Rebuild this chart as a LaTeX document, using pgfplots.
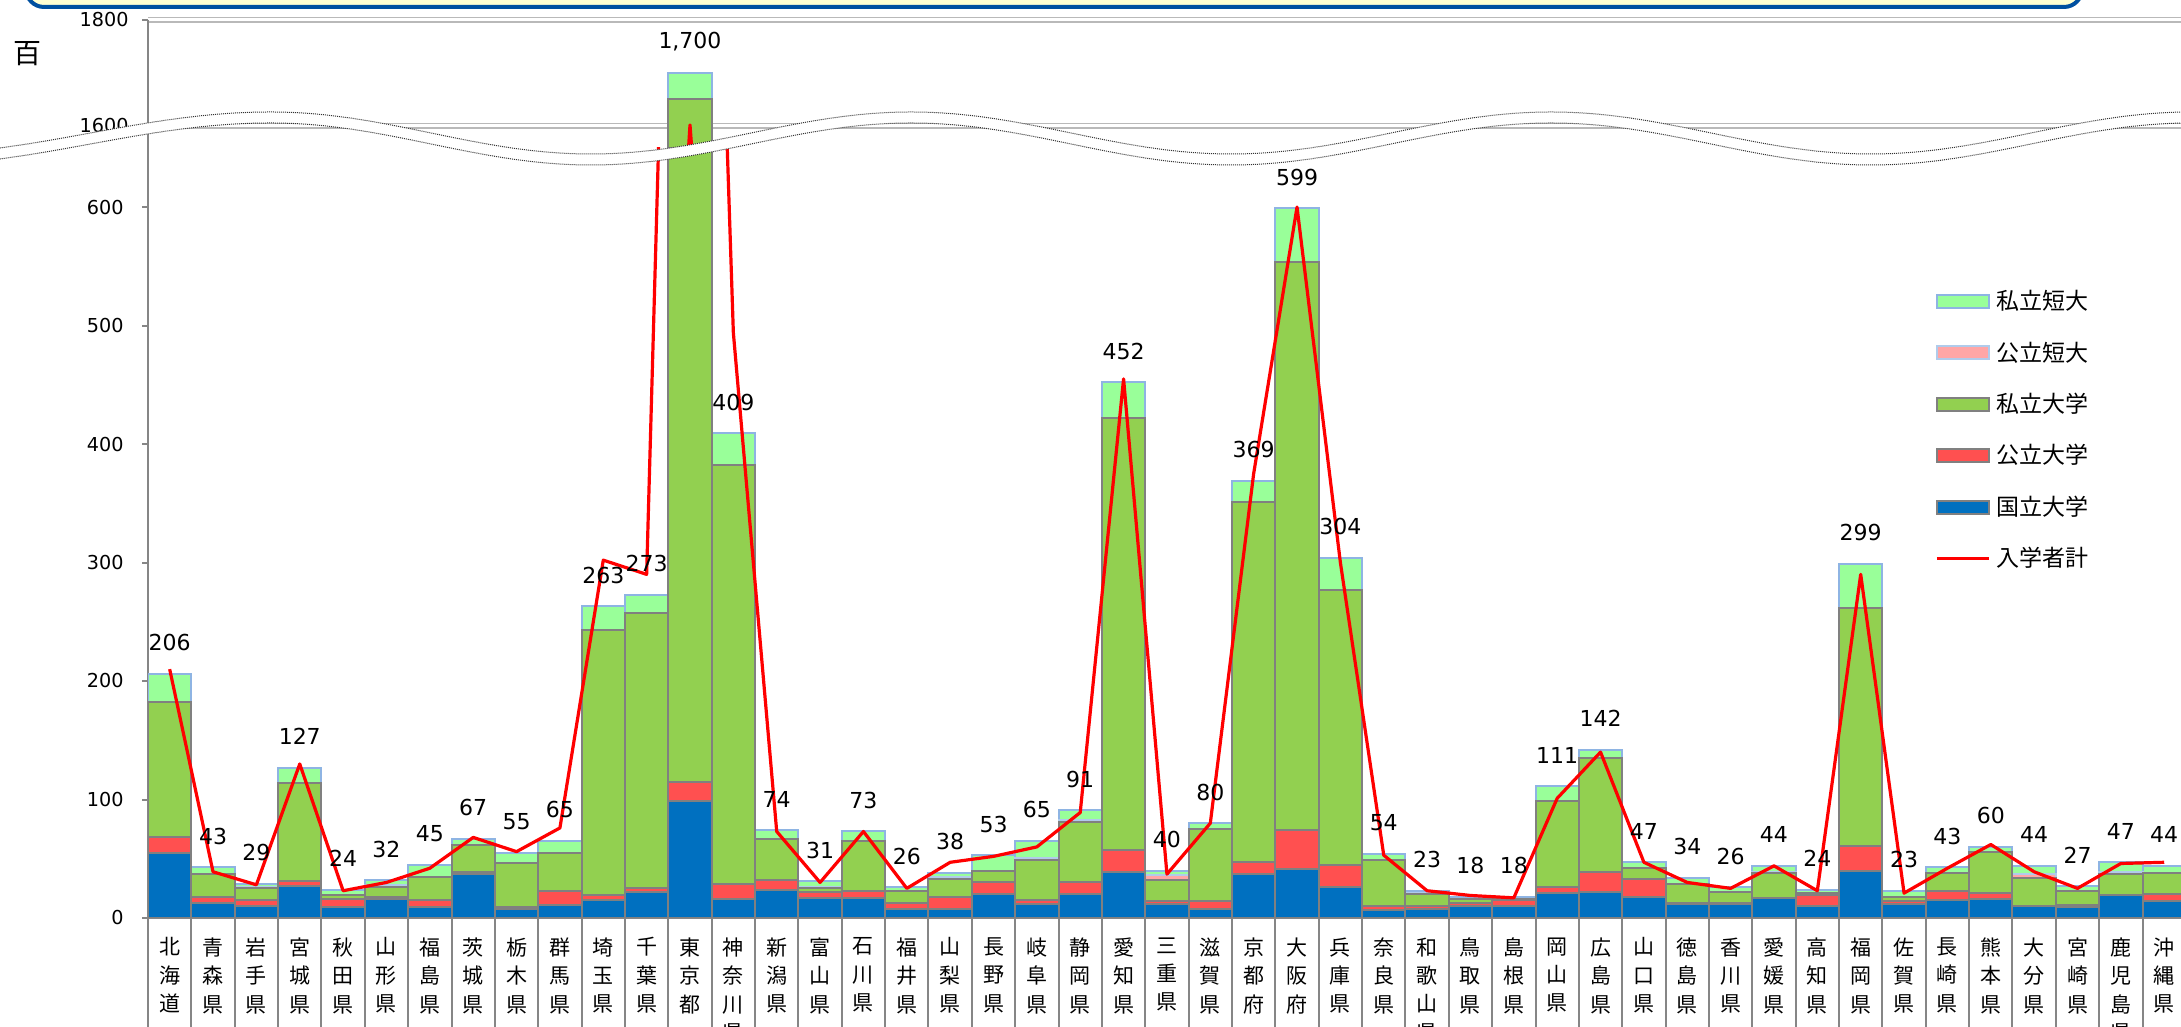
\documentclass[border=0pt]{standalone}
\usepackage{fontspec}
\setmainfont{DejaVu Sans}
\newfontfamily\jp{Noto Sans CJK JP}
\usepackage{pgfplots}
\usepackage{pgfplotstable}
\pgfplotsset{compat=1.18}

\definecolor{kokuritsu}{RGB}{0,112,192}
\definecolor{kouritsu}{RGB}{255,80,80}
\definecolor{shiritsu}{RGB}{146,208,80}
\definecolor{koutan}{RGB}{255,166,166}
\definecolor{shitan}{RGB}{153,255,153}
\definecolor{edgegray}{RGB}{128,128,128}
\definecolor{edgeblue}{RGB}{142,180,227}
\definecolor{axgray}{RGB}{134,134,134}
\definecolor{framebl}{RGB}{0,80,160}
\definecolor{frameyl}{RGB}{255,255,210}

% koku=国立大学 kou=公立大学 shi=私立大学 kotan=公立短大 shitan=私立短大 line=入学者計
\pgfplotstableread{
idx koku kou shi kotan shitan line total
0  55 13 114 0 24 210 206
1  13 5  19  0 6  39  43
2  10 5  10  1 3  28  29
3  27 4  83  0 13 130 127
4  9  7  3   0 5  23  24
5  16 2  8   2 4  30  32
6  9  6  20  0 10 42  45
7  37 2  23  0 5  68  67
8  8  1  37  0 9  56  55
9  11 12 32  0 10 76  65
10 15 4  224 0 20 302 263
11 22 3  232 0 16 290 273
12 99 16 1535 0 50 1602 1700
13 16 13 353 0 27 494 409
14 24 8  35  0 7  73  74
15 17 5  3   1 5  30  31
16 17 6  42  0 8  73  73
17 8  5  10  0 3  25  26
18 8  10 15  2 3  47  38
19 20 10 10  0 13 52  53
20 12 3  34  2 14 60  65
21 20 10 51  2 8  89  91
22 39 18 365 0 30 455 452
23 12 2  18  4 4  37  40
24 8  6  61  0 5  80  80
25 37 10 304 0 18 375 369
26 41 33 480 0 45 600 599
27 26 19 232 0 27 300 304
28 7  3  39  0 5  53  54
29 8  2  10  1 2  23  23
30 10 3  3   0 2  19  18
31 10 5  1   0 2  17  18
32 21 5  73  0 12 101 111
33 22 17 96  0 7  140 142
34 18 15 9   0 5  47  47
35 12 1  16  0 5  30  34
36 12 1  9   0 4  25  26
37 17 0  21  1 5  44  44
38 10 9  2   0 3  23  24
39 40 21 201 0 37 290 299
40 12 2  4   0 5  21  23
41 15 8  15  0 5  42  43
42 16 5  35  0 4  62  60
43 10 0  24  3 7  39  44
44 9  2  12  0 4  25  27
45 19 0  18  2 8  46  47
46 14 6  18  0 6  47  44
}\data

\pgfplotsset{
  /pgf/number format/assume math mode=true,
  base/.style={scale only axis, width=1019pt, xmin=-0.5, xmax=46.5, anchor=south west},
  bars/.style={ybar stacked, bar width=1},
  legbox/.style={legend image code/.code={\draw[##1] (0pt,-3.25pt) rectangle (26pt,3.25pt);}},
  legline/.style={legend image code/.code={\draw[##1] (0pt,0pt) -- (26pt,0pt);}},
  totlabels/.style={draw=none, mark=none, nodes near coords, point meta=explicit,
    every node near coord/.append style={font=\fontsize{11}{13}\selectfont, anchor=center, inner sep=0pt, yshift=15.5pt}},
}

\begin{document}
\begin{tikzpicture}[x=1pt,y=1pt]
\useasboundingbox (0,0) rectangle (1090.5,513.5);
\clip (0,0) rectangle (1090.5,513.5);

% lower part 0-650
\begin{axis}[base, bars, at={(74pt,54.5pt)}, height=385.1pt, ymin=0, ymax=650,
  axis x line*=bottom, axis y line*=left,
  axis line style={axgray, line width=1pt},
  ytick={0,100,...,600},
  ytick align=outside, xtick align=outside, major tick length=3pt,
  y tick style={axgray, line width=1pt},
  y tick label style={font=\fontsize{9.6}{12}\selectfont, inner sep=0pt, xshift=-9pt},
  xtick={0,...,46},
  xticklabels={{北\\海\\道},{青\\森\\県},{岩\\手\\県},{宮\\城\\県},{秋\\田\\県},{山\\形\\県},{福\\島\\県},{茨\\城\\県},{栃\\木\\県},{群\\馬\\県},{埼\\玉\\県},{千\\葉\\県},{東\\京\\都},{神\\奈\\川\\県},{新\\潟\\県},{富\\山\\県},{石\\川\\県},{福\\井\\県},{山\\梨\\県},{長\\野\\県},{岐\\阜\\県},{静\\岡\\県},{愛\\知\\県},{三\\重\\県},{滋\\賀\\県},{京\\都\\府},{大\\阪\\府},{兵\\庫\\県},{奈\\良\\県},{和\\歌\\山\\県},{鳥\\取\\県},{島\\根\\県},{岡\\山\\県},{広\\島\\県},{山\\口\\県},{徳\\島\\県},{香\\川\\県},{愛\\媛\\県},{高\\知\\県},{福\\岡\\県},{佐\\賀\\県},{長\\崎\\県},{熊\\本\\県},{大\\分\\県},{宮\\崎\\県},{鹿\\児\\島\\県},{沖\\縄\\県}},
  major x tick style={draw=none},
  minor xtick={-0.5,0.5,...,46.5},
  minor x tick style={axgray, line width=1pt},
  minor tick length=60pt,
  x tick label style={font=\jp\fontsize{10.5}{14.2}\selectfont, align=center, anchor=north, inner sep=0pt, yshift=-6.6pt},
]
\addplot[fill=kokuritsu, draw=edgegray, line width=1pt] table[x=idx,y=koku]{\data};
\addplot[fill=kouritsu, draw=edgegray, line width=1pt] table[x=idx,y=kou]{\data};
\addplot[fill=shiritsu, draw=edgegray, line width=1pt] table[x=idx,y=shi]{\data};
\addplot[fill=koutan, draw=edgeblue!70, line width=1pt] table[x=idx,y=kotan]{\data};
\addplot[fill=shitan, draw=edgeblue, line width=1pt] table[x=idx,y=shitan]{\data};
\end{axis}

% lower overlay: line, totals, legend
\begin{axis}[base, at={(74pt,54.5pt)}, height=385.1pt, ymin=0, ymax=650, hide axis,
  legend cell align=left,
  legend style={draw=none, fill=none, inner sep=0pt, at={(axis description cs:0.8768,0.8154)},
    anchor=north west, row sep=14.5pt, font=\jp\fontsize{11.5}{12}\selectfont,
    nodes={inner sep=0pt}, /tikz/every odd column/.append style={column sep=3pt}},
]
\addlegendimage{legbox, fill=shitan, draw=edgeblue, line width=1pt}
\addlegendentry{私立短大}
\addlegendimage{legbox, fill=koutan, draw=edgeblue!70, line width=1pt}
\addlegendentry{公立短大}
\addlegendimage{legbox, fill=shiritsu, draw=edgegray, line width=1pt}
\addlegendentry{私立大学}
\addlegendimage{legbox, fill=kouritsu, draw=edgegray, line width=1pt}
\addlegendentry{公立大学}
\addlegendimage{legbox, fill=kokuritsu, draw=edgegray, line width=1pt}
\addlegendentry{国立大学}
\addplot[legline, red, line width=1.6pt, line join=round] table[x=idx,y=line]{\data};
\addlegendentry{入学者計}
\addplot[totlabels, restrict y to domain=0:650] table[x=idx,y=total,meta=total]{\data};
\end{axis}

% upper part 1558.5-1800 (only Tokyo reaches it)
\begin{axis}[base, bars, at={(74pt,439.5pt)}, height=64pt, ymin=1558.5, ymax=1800,
  hide x axis, axis y line*=left,
  axis line style={axgray, line width=1pt},
  ytick={1600,1800}, ytick align=outside, major tick length=3pt,
  y tick style={axgray, line width=1pt},
  y tick label style={font=\fontsize{9.6}{12}\selectfont, inner sep=0pt, xshift=-6.5pt, /pgf/number format/1000 sep={}},
  ymajorgrids, major grid style={draw=gray!55, double=white, double distance=1.5pt, line width=0.6pt},
]
\addplot[restrict x to domain=11.5:12.5, fill=kokuritsu, draw=edgegray, line width=1pt] table[x=idx,y=koku]{\data};
\addplot[restrict x to domain=11.5:12.5, fill=kouritsu, draw=edgegray, line width=1pt] table[x=idx,y=kou]{\data};
\addplot[restrict x to domain=11.5:12.5, fill=shiritsu, draw=edgegray, line width=1pt] table[x=idx,y=shi]{\data};
\addplot[restrict x to domain=11.5:12.5, fill=koutan, draw=edgeblue!70, line width=1pt] table[x=idx,y=kotan]{\data};
\addplot[restrict x to domain=11.5:12.5, fill=shitan, draw=edgeblue, line width=1pt] table[x=idx,y=shitan]{\data};
\end{axis}

\begin{axis}[base, at={(74pt,439.5pt)}, height=64pt, ymin=1558.5, ymax=1800, hide axis]
\addplot[red, line width=1.6pt, line join=round] table[x=idx,y=line]{\data};
\addplot[totlabels, restrict y to domain=1559:1800] table[x=idx,y=total,meta=total]{\data};
\end{axis}

% broken-axis wave
\def\wave{(-45,436.5) cos (45.25,447) sin (135.5,457.5) cos (215.5,447) sin (295.5,436.5) cos (375.5,447) sin (455.5,457.5) cos (535.5,447) sin (615.5,436.5) cos (695.5,447) sin (775.5,457.5) cos (855.5,447) sin (935.5,436.5) cos (1015.5,447) sin (1095.5,457.5)}
\draw[white, line width=5.5pt, yshift=-2.75pt] \wave;
\draw[black!80, line width=0.5pt, dash pattern=on 0.5pt off 0.5pt] \wave;
\draw[black!80, line width=0.5pt, dash pattern=on 0.5pt off 0.5pt, yshift=-5.5pt] \wave;

% frame of the title box above
\draw[framebl, line width=2pt, fill=frameyl, rounded corners=9pt] (13,510) rectangle (1041,540);

\node[font=\jp\fontsize{14}{14}\selectfont] at (13.75,486.5) {百};
\end{tikzpicture}
\end{document}
